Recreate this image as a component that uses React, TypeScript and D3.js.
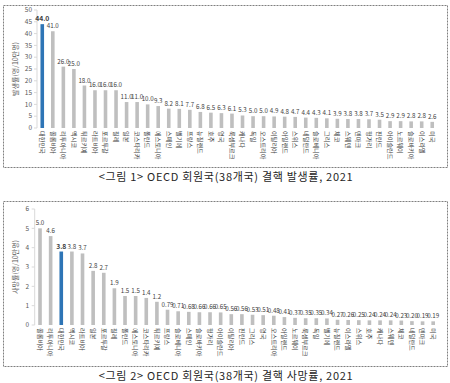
import React from "react";
import * as d3 from "d3";

const cats1 = ["대한민국","콜롬비아","리투아니아","멕시코","튀르키예","라트비아","포르투갈","칠레","일본","코스타리카","폴란드","에스토니아","스페인","벨기에","프랑스","뉴질랜드","호주","영국","룩셈부르크","캐나다","독일","오스트리아","이탈리아","아일랜드","스위스","네덜란드","슬로베니아","그리스","체코","스웨덴","덴마크","헝가리","핀란드","아이슬란드","노르웨이","슬로바키아","이스라엘","미국"];
const vals1 = [44.0,41.0,26.0,25.0,18.0,16.0,16.0,16.0,11.0,11.0,10.0,9.3,8.2,8.1,7.7,6.8,6.5,6.3,6.1,5.3,5.0,5.0,4.9,4.8,4.7,4.4,4.3,4.1,3.9,3.8,3.8,3.7,3.5,2.9,2.9,2.8,2.8,2.6];
const labels1 = ["44.0","41.0","26.0","25.0","18.0","16.0","16.0","16.0","11.0","11.0","10.0","9.3","8.2","8.1","7.7","6.8","6.5","6.3","6.1","5.3","5.0","5.0","4.9","4.8","4.7","4.4","4.3","4.1","3.9","3.8","3.8","3.7","3.5","2.9","2.9","2.8","2.8","2.6"];
const ticks1 = [0,5,10,15,20,25,30,35,40,45,50];

const cats2 = ["콜롬비아","리투아니아","대한민국","멕시코","라트비아","일본","포르투갈","칠레","폴란드","에스토니아","코스타리카","튀르키예","프랑스","슬로베니아","스페인","슬로바키아","헝가리","아이슬란드","이탈리아","핀란드","그리스","영국","오스트리아","아일랜드","노르웨이","룩셈부르크","독일","벨기에","뉴질랜드","이스라엘","스위스","호주","캐나다","스웨덴","체코","네덜란드","덴마크","미국"];
const vals2 = [5.0,4.6,3.8,3.8,3.7,2.8,2.7,1.9,1.5,1.5,1.4,1.2,0.79,0.71,0.68,0.66,0.66,0.65,0.56,0.56,0.53,0.51,0.48,0.41,0.37,0.35,0.35,0.34,0.27,0.26,0.25,0.24,0.24,0.24,0.23,0.20,0.19,0.19];
const labels2 = ["5.0","4.6","3.8","3.8","3.7","2.8","2.7","1.9","1.5","1.5","1.4","1.2","0.79","0.71","0.68","0.66","0.66","0.65","0.56","0.56","0.53","0.51","0.48","0.41","0.37","0.35","0.35","0.34","0.27","0.26","0.25","0.24","0.24","0.24","0.23","0.20","0.19","0.19"];
const ticks2 = [0,1,2,3,4,5,6];

const FONT = "\"Noto Sans CJK KR\", \"Noto Sans\", sans-serif";
const GRAY = "#BFBFBF";
const BLUE = "#2E75B6";

type ChartProps = {
  cats: string[]; vals: number[]; labels: string[]; ticks: number[];
  highlight: string; title: string; caption: string;
  box: [number, number, number, number];
  x0: number; x1: number; y0: number; y1: number; yMax: number;
  tickX: number; titleX: number; captionY: number;
};

function Chart(p: ChartProps) {
  const x = d3.scaleBand<string>().domain(p.cats).range([p.x0, p.x1]).paddingInner(0.66).paddingOuter(0.33);
  const y = d3.scaleLinear().domain([0, p.yMax]).range([p.y0, p.y1]);
  const [bx, by, bw, bh] = p.box;
  return (
    <g style={{ fontFamily: FONT }}>
      <rect x={bx} y={by} width={bw} height={bh} fill="none" stroke="#7F7F7F" strokeWidth={1} strokeDasharray="2,1" />
      <line x1={p.x0} x2={p.x0} y1={y(p.yMax)} y2={y(0)} stroke="#D9D9D9" />
      {p.ticks.map(t => (
        <g key={t}>
          <line x1={p.x0 - 3} x2={p.x0} y1={y(t)} y2={y(t)} stroke="#D9D9D9" />
          <text x={p.tickX} y={y(t)} dy="0.35em" textAnchor="end" fontSize={6.5} fill="#595959">{t}</text>
        </g>
      ))}
      <text transform={`translate(${p.titleX},${(y(p.yMax) + y(0)) / 2}) rotate(-90)`} textAnchor="middle" dy="0.35em" fontSize={7} fill="#595959">{p.title}</text>
      {p.cats.map((c, i) => {
        const cx = (x(c) as number) + x.bandwidth() / 2;
        const hl = c === p.highlight;
        return (
          <g key={c}>
            <rect x={x(c)} y={y(p.vals[i])} width={x.bandwidth()} height={y(0) - y(p.vals[i])} fill={hl ? BLUE : GRAY} />
            <text x={cx} y={y(p.vals[i]) - 3} textAnchor="middle" fontSize={hl ? 6.8 : 6.2} fontWeight={hl ? "bold" : "normal"} fill="#404040">{p.labels[i]}</text>
            <text transform={`translate(${cx},${y(0) + 3}) rotate(90)`} textAnchor="start" dy="0.35em" fontSize={6.2} fill="#404040">{c}</text>
          </g>
        );
      })}
      <text x={226} y={p.captionY} textAnchor="middle" dy="0.35em" fontSize={11} letterSpacing={0.7} fill="#262626">{p.caption}</text>
    </g>
  );
}

export default function App() {
  return (
    <svg width={450} height={383} style={{ position: "absolute", left: 0, top: 0, background: "#fff", fontFamily: FONT }}>
      <rect width={450} height={383} fill="#fff" />
      <Chart cats={cats1} vals={vals1} labels={labels1} ticks={ticks1} highlight="대한민국"
        title="발생률(명/10만명)" caption="<그림 1> OECD 회원국(38개국) 결핵 발생률, 2021"
        box={[3.5, 5.5, 444, 162]} x0={37} x1={437.5} y0={128} y1={10} yMax={50}
        tickX={32} titleX={16} captionY={177} />
      <Chart cats={cats2} vals={vals2} labels={labels2} ticks={ticks2} highlight="대한민국"
        title="사망률(명/10만명)" caption="<그림 2> OECD 회원국(38개국) 결핵 사망률, 2021"
        box={[3.5, 201.5, 444, 165]} x0={34.7} x1={438.5} y0={325} y1={209} yMax={6}
        tickX={29} titleX={16} captionY={376} />
    </svg>
  );
}
